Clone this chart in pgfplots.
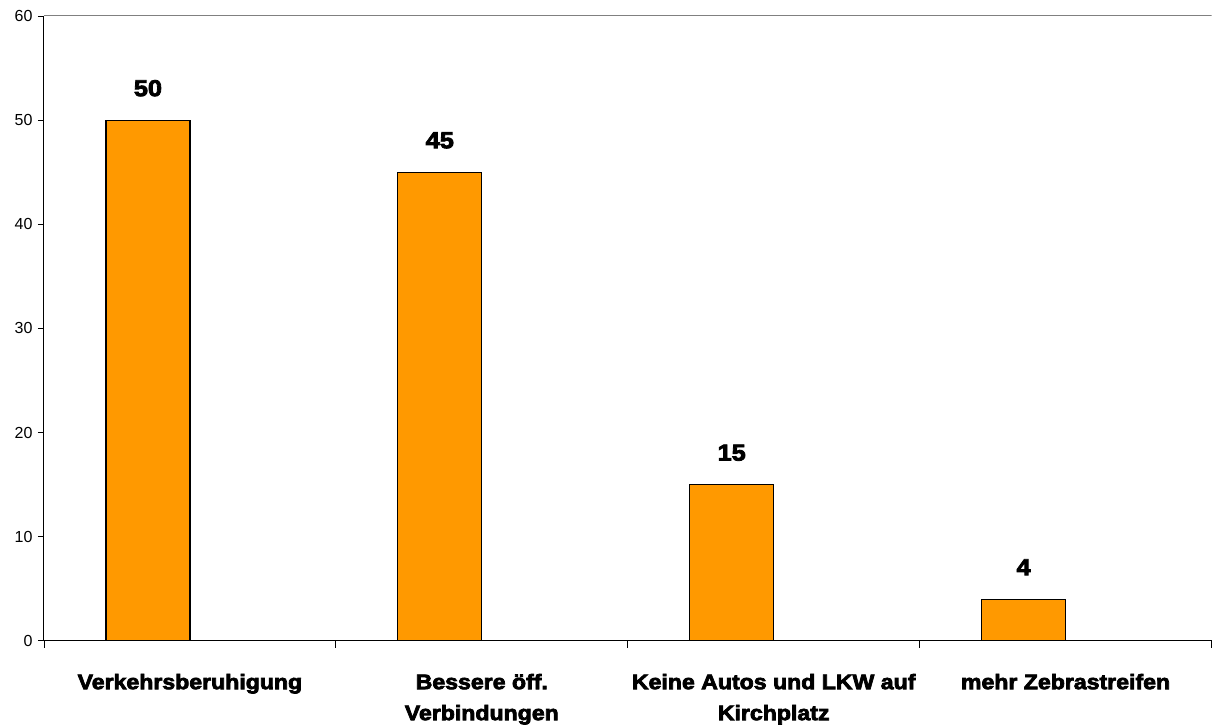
\documentclass[border=0pt]{standalone}
\usepackage{pgfplots}
\pgfplotsset{compat=1.18}
\usepackage{fontspec}
\setmainfont{Liberation Sans}
\newfontfamily\heavy{Liberation Sans Bold}[FakeStretch=1.1,FakeBold=3.5]
\definecolor{barorange}{HTML}{FF9900}

\begin{document}
\begin{tikzpicture}
\begin{axis}[
  scale only axis, width=1168pt, height=625pt,
  ymin=0, ymax=60, ytick={0,10,...,60},
  xmin=-0.5, xmax=3.5,
  axis x line*=bottom, axis y line*=left,
  axis line style={black, line width=1pt, -},
  tick align=outside, major tick length=6pt,
  tick style={black, line width=0.8pt},
  ybar, bar width=84pt, bar shift=-42pt,
  xtick={0,1,2,3},
  xticklabels={Verkehrsberuhigung, {Bessere öff.\\Verbindungen}, {Keine Autos und LKW auf\\Kirchplatz}, mehr Zebrastreifen},
  xtick style={draw=none},
  extra x ticks={-0.5,0.5,1.5,2.5,3.5},
  extra x tick labels={},
  extra x tick style={xtick style={draw=black}, major tick length=7pt},
  xticklabel style={font=\heavy\fontsize{21}{31}\selectfont, align=center, anchor=north, inner sep=0pt, yshift=-27pt},
  yticklabel style={font=\fontsize{16}{19}\selectfont, xshift=-2pt},
  /pgf/number format/assume math mode=true,
  nodes near coords,
  every node near coord/.append style={font=\heavy\fontsize{23}{27}\selectfont, anchor=base, inner sep=0pt, yshift=24pt, black},
]
\addplot[draw=black, line width=1.2pt, fill=barorange] coordinates {(0,50) (1,45) (2,15) (3,4)};
\draw[gray, line width=1pt] (rel axis cs:0,1) -- (rel axis cs:1,1);
\coordinate (o) at (rel axis cs:0,0);
\end{axis}
\path (o) ++(-44pt,-83pt) rectangle ++(1212pt,724pt);
\end{tikzpicture}
\end{document}
